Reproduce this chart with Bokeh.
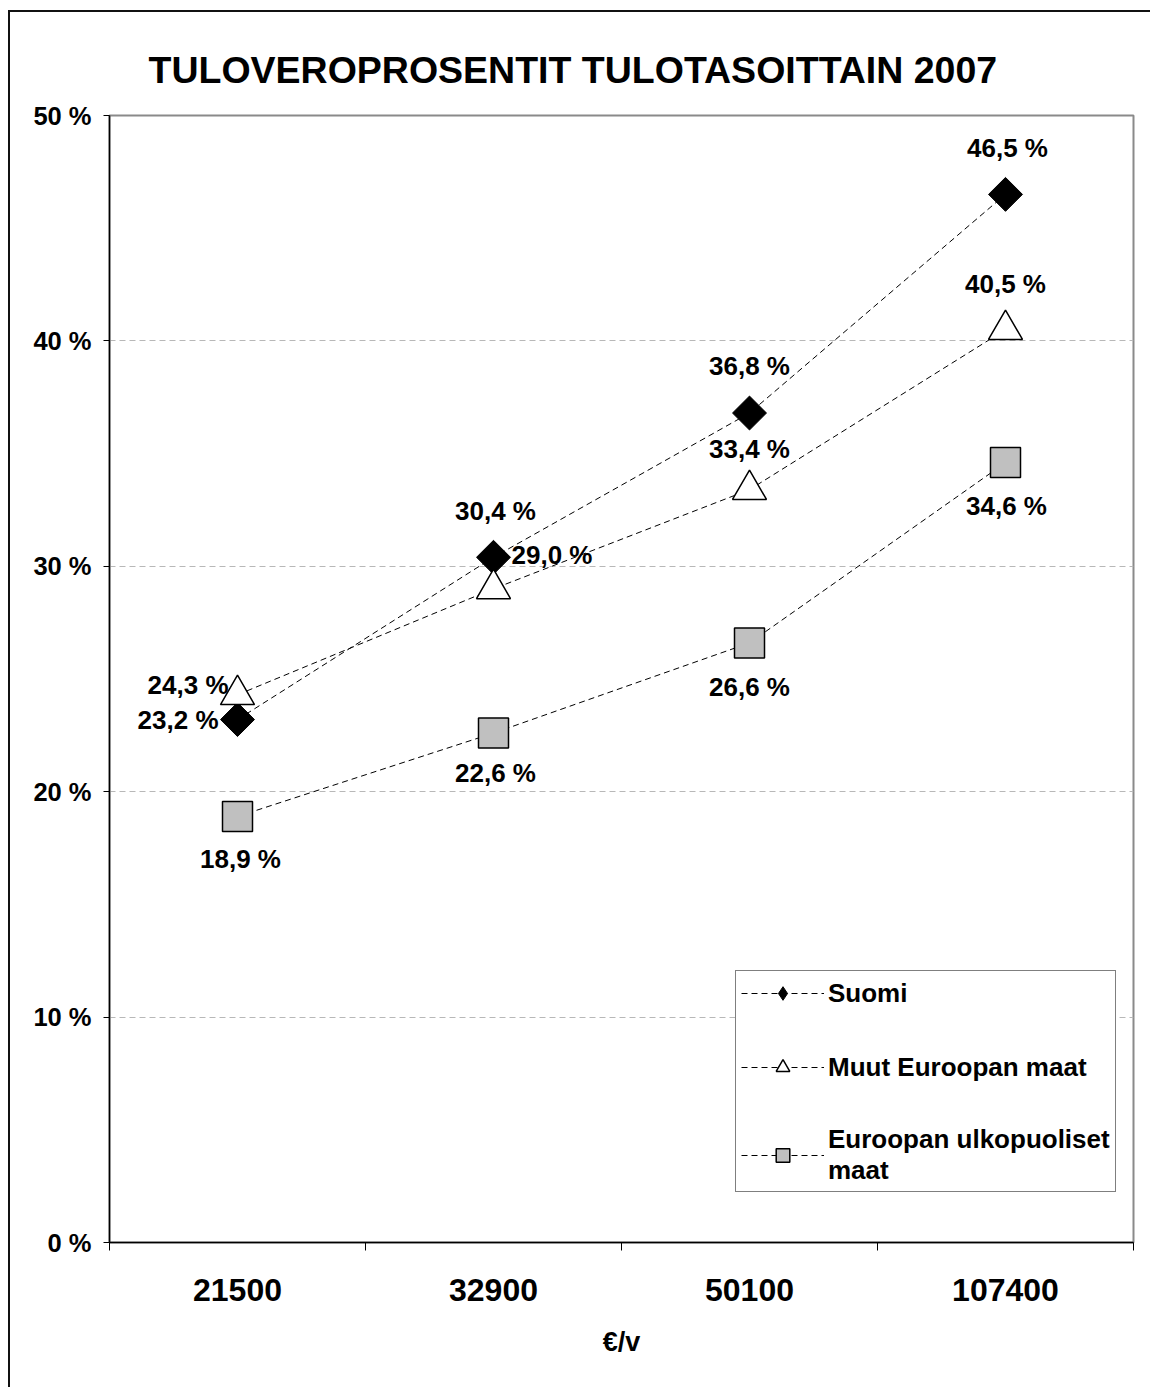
import math

from bokeh.embed import file_html
from bokeh.models import (ColumnDataSource, FixedTicker, Grid, Label, Legend,
                          LegendItem, LinearAxis, Range1d)
from bokeh.plotting import figure
from bokeh.resources import INLINE

# --- data -------------------------------------------------------------------
title_text = "TULOVEROPROSENTIT TULOTASOITTAIN 2007"
income_levels = ["21500", "32900", "50100", "107400"]
x_title = "€/v"

suomi = [23.2, 30.4, 36.8, 46.5]
muut_euroopan_maat = [24.3, 29.0, 33.4, 40.5]
euroopan_ulkopuoliset = [18.9, 22.6, 26.6, 34.6]

series_names = ["Suomi", "Muut Euroopan maat", "Euroopan ulkopuoliset\nmaat"]

y_ticks = [0, 10, 20, 30, 40, 50]
y_tick_labels = ["0 %", "10 %", "20 %", "30 %", "40 %", "50 %"]

# --- styling ----------------------------------------------------------------
FONT = "Liberation Sans"

# where each value label sits relative to its marker: (dx, dy, align)
label_places = [
    [(-19, 0, "right"), (2, 46, "center"), (0, 47, "center"), (2, 46, "center")],
    [(-9, 10, "right"), (18, 34, "left"), (0, 41, "center"), (0, 46, "center")],
    [(3, -43, "center"), (2, -40, "center"), (0, -44, "center"), (1, -43, "center")],
]

marker_styles = [
    dict(marker="square", angle=math.pi / 4, size=24, fill_color="black",
         line_color="black", line_width=1),
    dict(marker="triangle", size=34, fill_color="white",
         line_color="black", line_width=1.5),
    dict(marker="square", size=30, fill_color="#c0c0c0",
         line_color="black", line_width=1.5),
]

# the legend cannot rotate markers, so the first series gets a diamond key
legend_marker_styles = [
    dict(marker="diamond", size=24, fill_color="black", line_color="black",
         line_width=1),
    None,
    None,
]

# x positions: the middle of each income bin
xs = [i + 0.5 for i in range(len(income_levels))]

p = figure(
    width=1142, height=1377,
    x_range=Range1d(0, len(income_levels)), y_range=Range1d(0, 50),
    x_axis_type=None, y_axis_type=None,
    output_backend="svg", toolbar_location=None,
    min_border_left=99, min_border_right=19,
    min_border_top=103, min_border_bottom=147,
    title=title_text,
)
p.styles = {
    "margin-left": "8px",
    "margin-top": "10px",
    "border-left": "2px solid #111",
    "border-top": "2px solid #111",
}
p.background_fill_color = "white"
p.border_fill_color = "white"
p.outline_line_color = "#8a8a8a"
p.outline_line_width = 2

p.title.align = "left"
p.title.offset = 39
p.title.text_font = FONT
p.title.text_font_style = "bold"
p.title.text_font_size = "37.5px"
p.title.text_color = "black"
if "standoff" in p.title.properties():
    p.title.standoff = 50

# y axis with percent labels
yaxis = LinearAxis(
    ticker=FixedTicker(ticks=y_ticks, minor_ticks=[]),
    major_label_overrides={t: lab for t, lab in zip(y_ticks, y_tick_labels)},
    major_tick_out=6, major_tick_in=0, minor_tick_out=0, minor_tick_in=0,
    axis_line_color="black", axis_line_width=1.5,
    major_tick_line_color="black", major_tick_line_width=1,
    major_label_text_font=FONT, major_label_text_font_style="bold",
    major_label_text_font_size="25.5px", major_label_text_color="black",
    major_label_standoff=12,
)
p.add_layout(yaxis, "left")

# x axis: labels at bin centres, tick marks at the bin edges
xaxis = LinearAxis(
    ticker=FixedTicker(ticks=xs, minor_ticks=list(range(len(income_levels) + 1))),
    major_label_overrides={x: lab for x, lab in zip(xs, income_levels)},
    major_tick_out=0, major_tick_in=0,
    minor_tick_out=8, minor_tick_in=0,
    minor_tick_line_color="black", minor_tick_line_width=1,
    axis_line_color="black", axis_line_width=1.5,
    major_label_text_font=FONT, major_label_text_font_style="bold",
    major_label_text_font_size="32px", major_label_text_color="black",
    major_label_standoff=28,
    axis_label=x_title,
    axis_label_text_font=FONT, axis_label_text_font_style="bold",
    axis_label_text_font_size="27px", axis_label_text_color="black",
    axis_label_standoff=23,
)
p.add_layout(xaxis, "below")

p.add_layout(Grid(dimension=1, ticker=yaxis.ticker, grid_line_color="#b8b8b8",
                  grid_line_dash="6 4", grid_line_width=1))

all_series = [suomi, muut_euroopan_maat, euroopan_ulkopuoliset]

sources = []
lines = []
for vals in all_series:
    src = ColumnDataSource(dict(x=xs, y=vals))
    sources.append(src)
    lines.append(p.line("x", "y", source=src, line_color="black",
                        line_dash="6 4", line_width=1))

items = []
for src, ln, name, style, key_style in zip(sources, lines, series_names,
                                            marker_styles, legend_marker_styles):
    sc = p.scatter("x", "y", source=src, **style)
    if key_style is None:
        key = sc
    else:
        key = p.scatter("x", "y", source=src, visible=False, **key_style)
    items.append(LegendItem(label=name, renderers=[ln, key]))

# value labels
for vals, places in zip(all_series, label_places):
    for x, v, (dx, dy, align) in zip(xs, vals, places):
        p.add_layout(Label(
            x=x, y=v, x_offset=dx, y_offset=dy,
            text=f"{v:.1f} %".replace(".", ","),
            text_align=align, text_baseline="middle",
            text_font=FONT, text_font_style="bold", text_font_size="26px",
            text_color="black",
        ))

legend = Legend(
    items=items, location=(626, 50),
    glyph_width=83, glyph_height=34, label_height=34, label_standoff=4,
    spacing=40, padding=5, margin=0,
    border_line_color="black", border_line_width=1,
    background_fill_color="white", background_fill_alpha=1,
    label_text_font=FONT, label_text_font_style="bold",
    label_text_font_size="26px", label_text_color="black",
)
p.add_layout(legend)

with open("out.html", "w") as f:
    f.write(file_html(p, INLINE))
